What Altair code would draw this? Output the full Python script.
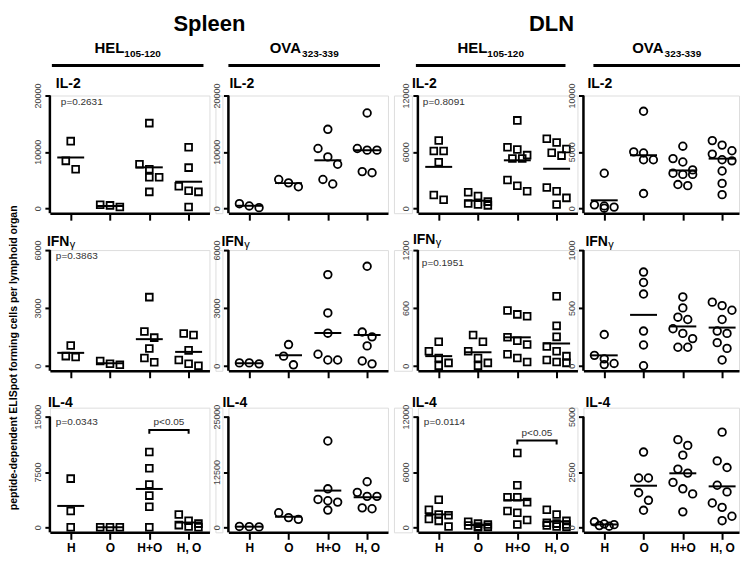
import altair as alt
import pandas as pd

FONT = "Liberation Sans"
groups = ["H", "O", "H+O", "H, O"]

# ---- values: [H, O, H+O, "H, O"] per panel ----
spleen_hel_il2 = [[11900, 8400, 6900], [600, 200, 500],
                  [15100, 7800, 6900, 5500, 5500, 2900],
                  [10800, 7200, 3900, 3100, 2900, 200]]
spleen_ova_il2 = [[800, 100, 400], [5100, 3800, 4500],
                  [14000, 10600, 9100, 7800, 4300, 5100],
                  [16900, 10300, 10300, 10600, 6500, 6300]]
dln_hel_il2 = [[7200, 6100, 6100, 4900, 1400, 900], [1700, 1300, 700, 500, 400, 300],
               [9350, 6500, 6250, 5650, 5300, 5300, 3000, 2400, 1800],
               [7400, 7000, 6300, 5900, 5600, 2200, 1800, 1100, 400]]
dln_ova_il2 = [[3100, 300, 200, 100, 0], [8600, 5000, 4900, 4300, 4300, 1300],
               [5500, 4400, 4100, 3400, 3100, 3000, 3000, 2100, 2000],
               [6000, 5600, 5100, 4800, 4300, 4200, 3300, 2200, 1200]]

spleen_hel_ifng = [[1050, 500, 450], [250, 50, 100],
                   [3560, 1780, 1460, 900, 400, 180],
                   [1670, 1600, 800, 300, 100, 0]]
spleen_ova_ifng = [[150, 100, 150], [1100, 500, 50],
                   [4730, 2740, 1690, 600, 300, 300],
                   [5160, 1750, 1500, 1030, 250, 100]]
dln_hel_ifng = [[250, 150, 80, 30, 0], [320, 250, 150, 80, 30, 0],
                [573, 533, 514, 296, 260, 220, 120, 80, 40],
                [722, 414, 300, 200, 150, 100, 60, 40, 30]]
dln_ova_ifng = [[270, 90, 60, 20, 10], [810, 720, 620, 300, 180, 0],
                [595, 500, 420, 400, 320, 280, 235, 160, 160],
                [550, 520, 480, 400, 300, 280, 200, 150, 50]]

spleen_hel_il4 = [[6600, 2200, 0], [0, 0, 0],
                  [10200, 8000, 5800, 4300, 2800, 0],
                  [1750, 900, 500, 300, 100, 0]]
spleen_ova_il4 = [[200, 100, 150], [3300, 2200, 1800],
                  [19500, 8700, 6300, 6000, 5700, 3900],
                  [10300, 7900, 7000, 7000, 4400, 4200]]
dln_hel_il4 = [[3000, 1900, 1400, 1300, 900, 700, 100], [600, 400, 300, 200, 100, 50, 0],
               [8060, 4570, 3270, 3270, 2730, 1760, 1590, 800, 300],
               [1900, 1400, 700, 500, 400, 300, 200, 100, 50]]
dln_ova_il4 = [[250, 150, 120, 80, 50], [3400, 2230, 2230, 1560, 1220, 770],
               [3960, 3700, 3260, 2630, 2450, 2030, 1740, 1510, 700],
               [4300, 3000, 2700, 1900, 1600, 1100, 900, 500, 300]]

# group mean lines
means_il2 = [[9000, 400, 7250, 4700], [430, 4450, 8500, 10300],
             [4400, 800, 5100, 4200], [700, 4700, 3350, 4400]]
means_ifng = [[670, 130, 1380, 720], [130, 550, 1700, 1600],
              [100, 140, 295, 230], [90, 440, 340, 330]]
means_il4 = [[2900, 0, 5200, 650], [150, 2400, 8300, 6800],
             [1400, 250, 2950, 620], [130, 1880, 2440, 1850]]

DATA = [[spleen_hel_il2, spleen_ova_il2, dln_hel_il2, dln_ova_il2],
        [spleen_hel_ifng, spleen_ova_ifng, dln_hel_ifng, dln_ova_ifng],
        [spleen_hel_il4, spleen_ova_il4, dln_hel_il4, dln_ova_il4]]
MEANS = [means_il2, means_ifng, means_il4]

row_titles = ["IL-2", "IFN", "IL-4"]
y_max = [[20000, 20000, 12000, 10000], [6000, 6000, 1200, 1000], [15000, 25000, 12000, 5000]]
p_values = [["p=0.2631", "", "p=0.8091", ""],
            ["p=0.3863", "", "p=0.1951", ""],
            ["p=0.0343", "", "p=0.0114", ""]]
bracket_values = {(2, 0): 13200, (2, 2): 9400}
bracket_text = "p<0.05"
col_headers = [("HEL", "105-120"), ("OVA", "323-339"), ("HEL", "105-120"), ("OVA", "323-339")]
organ_headers = {0: "Spleen", 2: "DLN"}
y_title = "peptide-dependent ELISpot forming cells per lymphoid organ"

# ---- layout constants ----
H_ROWS = [118, 121, 125]
TOP_PAD = [0, 0, 9]
W_COLS = [160, 160, 160, 156]
XDOM = [[-0.53, 3.53], [-0.53, 3.53], [-0.53, 3.53], [-0.53, 3.43]]
JIT = 0.25
TITLE_POS = [[(6, -12), (1, -12), (-6, -12), (4, -12)],
             [(-3, -8), (-7, -8), (-5, -10), (2, -8)],
             [(-2, -14), (-6, -14), (-6, -14), (2, -14)]]
P_POS = [[(11, 7), None, (5, 7), None],
         [(6, 6), None, (4, 13), None],
         [(6, 5), None, (6, 5), None]]
BAR_X = [(2, 154), (0, 152), (-2, 148), (10, 157)]
ORGAN_X = {0: 160, 2: 134}


def swarm(vals, thr):
    order = sorted(range(len(vals)), key=lambda i: -vals[i])
    offs = [0.0] * len(vals)
    grp = []

    def flush(g):
        k = len(g)
        for j, i in enumerate(g):
            offs[i] = j - (k - 1) / 2

    for i in order:
        if grp and (vals[grp[-1]] - vals[i] < thr) and len(grp) < 3:
            grp.append(i)
        else:
            if grp:
                flush(grp)
            grp = [i]
    if grp:
        flush(grp)
    return offs


def text_layer(txt, x, y, size, weight="normal", align="left", baseline="middle",
               angle=0, color="black"):
    kw = dict(font=FONT, fontSize=size, fontWeight=weight, align=align,
              baseline=baseline, color=color)
    if angle:
        kw["angle"] = angle
    return alt.Chart(pd.DataFrame({"t": [txt]})).mark_text(**kw).encode(
        text="t:N", x=alt.value(x), y=alt.value(y))


def make_panel(r, c):
    vals = DATA[r][c]
    mv = MEANS[r][c]
    ymax = y_max[r][c]
    H = H_ROWS[r]
    tp = TOP_PAD[r]
    W = W_COLS[c]
    k = ymax / (H - 5 - tp)          # data units per pixel
    thr = 9 * k
    recs = []
    for gi, gv in enumerate(vals):
        offs = swarm(gv, thr)
        for v, o in zip(gv, offs):
            recs.append({"x": gi + o * JIT, "y": v})
    pts_df = pd.DataFrame(recs)
    mean_df = pd.DataFrame({"x": [0, 1, 2, 3], "y": mv})
    ylo = -5 * k
    yhi = ymax + tp * k
    xs = alt.Scale(domain=XDOM[c], nice=False, zero=False)
    ys = alt.Scale(domain=[ylo, yhi], nice=False, zero=False)
    bottom = r == 2
    xa = alt.Axis(values=[0, 1, 2, 3],
                  labelExpr="['H','O','H+O','H, O'][datum.value]",
                  labels=bottom, title=None, grid=False, tickSize=7, tickWidth=2,
                  domainWidth=2.5, domainColor="black", tickColor="black",
                  labelFont=FONT, labelFontSize=12, labelFontWeight="bold",
                  labelColor="black", labelPadding=3, labelFlush=False,
                  labelOverlap=False)
    ya = alt.Axis(values=[0, ymax / 2, ymax], format="d", title=None, grid=False,
                  domain=False, tickSize=5, tickWidth=2, tickColor="black",
                  labelAngle=270, labelAlign="center",
                  labelBaseline="bottom", labelFont=FONT, labelFontSize=9,
                  labelColor="#444444", labelPadding=2, labelOverlap=False,
                  labelFlush=False)
    X = alt.X("x:Q", scale=xs, axis=xa)
    Y = alt.Y("y:Q", scale=ys, axis=ya)
    # y axis line from the x axis up to the top tick
    axis_df = pd.DataFrame({"y": [ylo], "y2": [ymax]})
    yline = alt.Chart(axis_df).mark_rule(color="black", strokeWidth=2.5).encode(
        x=alt.value(0), y=Y, y2="y2:Q")
    square = c in (0, 2)
    pts = alt.Chart(pts_df).mark_point(
        shape="square" if square else "circle", size=46 if square else 58,
        filled=False, stroke="black", strokeWidth=1.8, opacity=1
    ).encode(x=X, y=Y)
    mean = alt.Chart(mean_df).mark_tick(
        orient="horizontal", size=27, thickness=2, color="black", opacity=1
    ).encode(x=X, y=Y)
    layers = [pts, mean, yline]

    # panel label
    tx, ty = TITLE_POS[r][c]
    ty += tp
    layers.append(text_layer(row_titles[r], tx, ty, 14, "bold"))
    if r == 1:
        layers.append(text_layer("γ", tx + 23, ty + 3, 11))
    # p-value
    if p_values[r][c]:
        px, py = P_POS[r][c]
        layers.append(text_layer(p_values[r][c], px, py + tp, 10, color="#333333"))
    # significance bracket
    if (r, c) in bracket_values:
        bv = bracket_values[(r, c)]
        d = ymax * 0.035
        bdf = pd.DataFrame({"x": [2, 2, 3, 3], "y": [bv - d, bv, bv, bv - d],
                            "o": [0, 1, 2, 3]})
        layers.append(alt.Chart(bdf).mark_line(color="black", strokeWidth=2).encode(
            x=X, y=Y, order="o:Q"))
        tdf = pd.DataFrame({"x": [2.5], "y": [bv], "t": [bracket_text]})
        layers.append(alt.Chart(tdf).mark_text(
            font=FONT, fontSize=10, color="#333333", dy=-8, baseline="middle"
        ).encode(x=X, y=Y, text="t:N"))
    # column headers on the top row
    if r == 0:
        b0, b1 = BAR_X[c]
        layers.append(alt.Chart(pd.DataFrame({"a": [0]})).mark_rule(
            color="black", strokeWidth=3).encode(
            x=alt.value(b0), x2=alt.value(b1), y=alt.value(-30)))
        main, sub = col_headers[c]
        mw = 30 if main == "HEL" else 32.5
        total = mw + 36.7
        center = (b0 + b1) / 2
        start = center - total / 2
        layers.append(text_layer(main, start, -43, 15, "bold", baseline="alphabetic"))
        layers.append(text_layer(sub, start + mw, -39, 10, "bold", baseline="alphabetic"))
        if c in organ_headers:
            layers.append(text_layer(organ_headers[c], ORGAN_X[c], -65, 22, "bold",
                                     align="center", baseline="alphabetic"))
    if r == 1 and c == 0:
        layers.append(text_layer(y_title, -36, 108, 10.5, "bold", align="center",
                                 angle=270))
    return alt.layer(*layers).properties(width=W, height=H)


def spacer(w, h):
    return alt.Chart(pd.DataFrame({"a": [0]})).mark_point(opacity=0).encode(
        x=alt.X("a:Q", axis=None), y=alt.Y("a:Q", axis=None)
    ).properties(width=w, height=h)


cells = []
for r in range(3):
    p = [make_panel(r, c) for c in range(4)]
    H = H_ROWS[r]
    cells += [p[0], spacer(7, H), p[1], spacer(18, H), p[2], p[3]]

chart = alt.concat(*cells, columns=6, bounds="flush",
                   spacing={"row": 37, "column": 6}).properties(
    padding={"left": 0, "top": 3, "right": 0, "bottom": 0}
).configure_view(stroke=None).configure(font=FONT)

chart.save("out.html", embed_options={"renderer": "svg", "actions": False})
